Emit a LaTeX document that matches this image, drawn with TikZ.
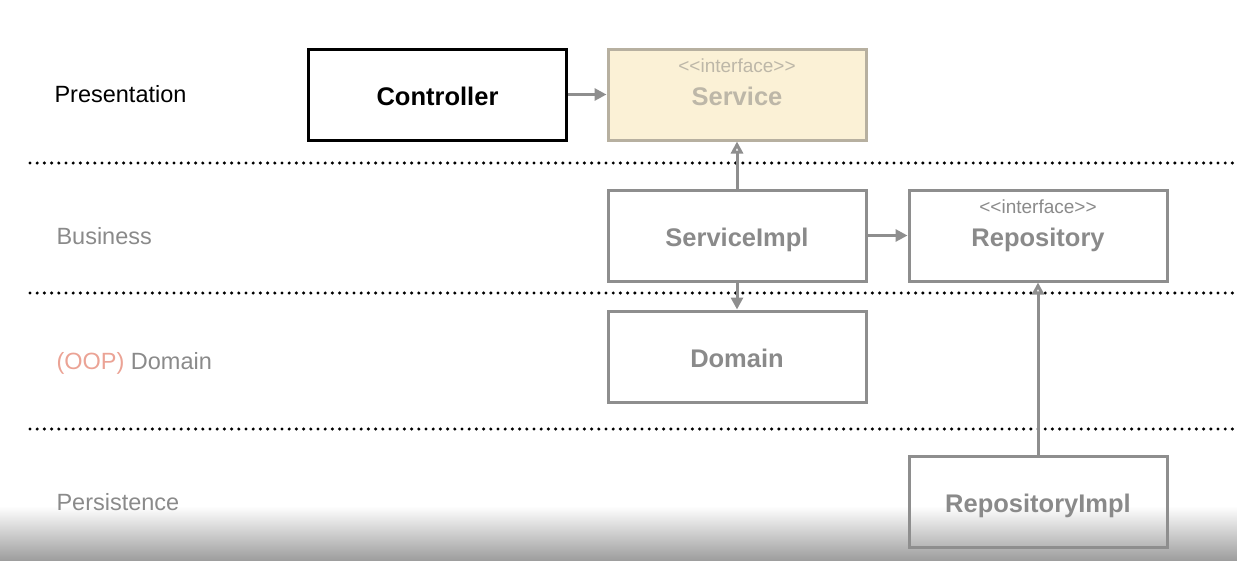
\documentclass[tikz,border=0pt]{standalone}
\usepackage{fontspec}
\setmainfont{Liberation Sans}
\usetikzlibrary{arrows.meta,positioning}
\definecolor{lineGray}{HTML}{8E8E8E}
\definecolor{textGray}{HTML}{8A8A8A}
\definecolor{paleGray}{HTML}{BDB7A8}
\definecolor{serviceFill}{HTML}{FBF1D6}
\definecolor{serviceLine}{HTML}{B7B0A0}
\definecolor{oopRed}{HTML}{EBA395}
\begin{document}
\begin{tikzpicture}[
  x=1pt, y=-1pt,
  box/.style={draw=lineGray,line width=3pt,minimum width=258pt,minimum height=91pt,
    inner sep=0pt,text height=23pt,text depth=2pt,align=center,text=textGray,
    font=\fontsize{25.5}{30}\selectfont\bfseries},
  activeBox/.style={box,draw=black,text=black},
  ifaceBox/.style={box,draw=serviceLine,fill=serviceFill,text=paleGray},
  stereo/.style={inner sep=0pt,font=\fontsize{19}{22}\selectfont},
  layer/.style={anchor=west,text=textGray,font=\fontsize{23.5}{28}\selectfont},
  layerLine/.style={line width=3.4pt,line cap=round,dash pattern=on 0pt off 7.2pt},
  flow/.style={-{Triangle[length=12pt,width=12pt]},line width=3pt,draw=lineGray},
  realize/.style={-{Triangle[open,length=12pt,width=12pt]},line width=3pt,draw=lineGray}]

\useasboundingbox (0,0) rectangle (1237,560);
% video shadow at the bottom
\shade[top color=white,bottom color=black!38] (0,506) rectangle (1237,560);

% layer separators
\draw[layerLine] (30,163) -- (1237,163);
\draw[layerLine] (30,293) -- (1237,293);
\draw[layerLine] (30,429) -- (1237,429);

% layer names
\node[layer,text=black] (presentation) at (51,94) {Presentation};
\node[layer] (business) at (53,236) {Business};
\node[layer] (domainLayer) at (53,363) {\textcolor{oopRed}{(OOP)} Domain};
\node[layer] (persistence) at (53,502) {Persistence};

% classes
\node[activeBox] (controller) at (437.5,94.5) {Controller};
\node[ifaceBox] (service) at (737,94.5) {Service};
\node[stereo,text=paleGray] (serviceStereo) at ([yshift=29pt]service.center) {<{}<interface>{}>};
\node[box] (serviceImpl) at (737,235.5) {ServiceImpl};
\node[box] (repository) at (1038,235.5) {Repository};
\node[stereo,text=textGray] (repositoryStereo) at ([yshift=29pt]repository.center) {<{}<interface>{}>};
\node[box] (domain) at (737,356.5) {Domain};
\node[box] (repositoryImpl) at (1038,501.5) {RepositoryImpl};

% dependencies
\draw[flow] (controller) -- (service);
\draw[realize] (serviceImpl) -- (service);
\draw[flow] (serviceImpl) -- (repository);
\draw[flow] (serviceImpl) -- (domain);
\draw[realize] (repositoryImpl) -- (repository);
\end{tikzpicture}
\end{document}
